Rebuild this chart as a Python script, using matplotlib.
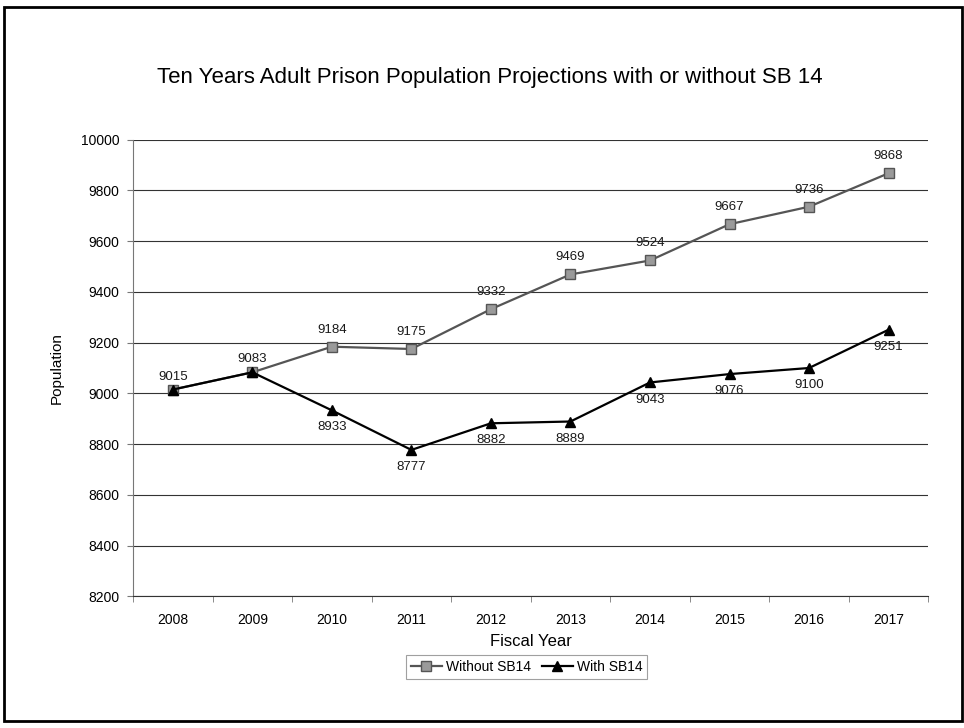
import matplotlib.pyplot as plt
from matplotlib.patches import Rectangle
import numpy as np

plt.rcParams['font.family'] = ['Liberation Sans', 'DejaVu Sans']

# data
years = [2008, 2009, 2010, 2011, 2012, 2013, 2014, 2015, 2016, 2017]
without_sb14 = [9015, 9083, 9184, 9175, 9332, 9469, 9524, 9667, 9736, 9868]
with_sb14 = [9015, 9083, 8933, 8777, 8882, 8889, 9043, 9076, 9100, 9251]
y_ticks = [8200, 8400, 8600, 8800, 9000, 9200, 9400, 9600, 9800, 10000]

fig = plt.figure(figsize=(9.64, 7.28), dpi=100)
ax = fig.add_axes([0.138, 0.181, 0.825, 0.627])

x = np.arange(len(years))

ax.plot(x, without_sb14, color='#555555', linewidth=1.6, marker='s', markersize=6.5,
        markerfacecolor='#9a9a9a', markeredgecolor='#555555', label='Without SB14', zorder=3)
ax.plot(x, with_sb14, color='black', linewidth=1.6, marker='^', markersize=7.5,
        markerfacecolor='black', markeredgecolor='black', label='With SB14', zorder=4)

# labels: without above, with below (shared starting points labelled once)
for i, v in enumerate(without_sb14):
    off = 5 if v == with_sb14[i] else 8
    ax.annotate(str(v), (x[i], v), xytext=(0, off), textcoords='offset points',
                ha='center', va='bottom', fontsize=9.5, color='#1a1a1a')
for i, v in enumerate(with_sb14):
    if v == without_sb14[i]:
        continue
    ax.annotate(str(v), (x[i], v), xytext=(0, -8), textcoords='offset points',
                ha='center', va='top', fontsize=9.5, color='#1a1a1a')

ax.set_xlim(-0.5, len(years) - 0.5)
ax.set_ylim(8200, 10000)
ax.set_yticks(y_ticks)
ax.set_yticklabels([str(t) for t in y_ticks], fontsize=10)
ax.set_xticks(x)
ax.set_xticklabels([str(y) for y in years], fontsize=10)
ax.set_xticks(np.arange(-0.5, len(years)), minor=True)
ax.tick_params(axis='x', which='major', length=0, pad=12)
ax.tick_params(axis='x', which='minor', length=4, color='#777777')
ax.tick_params(axis='y', length=4, color='#777777', pad=6)

ax.grid(axis='y', color='#333333', linewidth=0.8)
ax.set_axisbelow(True)
for side in ['top', 'right']:
    ax.spines[side].set_visible(False)
ax.spines['left'].set_color('#777777')
ax.spines['bottom'].set_color('#333333')
ax.spines['bottom'].set_linewidth(0.8)

ax.set_xlabel('Fiscal Year', fontsize=12, labelpad=5)
ax.set_ylabel('Population', fontsize=11, labelpad=12)
fig.text(0.508, 0.893, 'Ten Years Adult Prison Population Projections with or without SB 14',
         ha='center', va='center', fontsize=16)

leg = ax.legend(loc='center', bbox_to_anchor=(0.495, -0.155), ncol=2, fontsize=10,
                frameon=True, fancybox=False, handlelength=2.2, columnspacing=0.8,
                handletextpad=0.3, borderpad=0.35)
leg.get_frame().set_edgecolor('#888888')
leg.get_frame().set_linewidth(0.8)

# outer border around the whole chart
fig.patches.append(Rectangle((0.004, 0.009), 0.994, 0.981, transform=fig.transFigure,
                             fill=False, edgecolor='black', linewidth=2))

fig.savefig('out.png', dpi=100)
